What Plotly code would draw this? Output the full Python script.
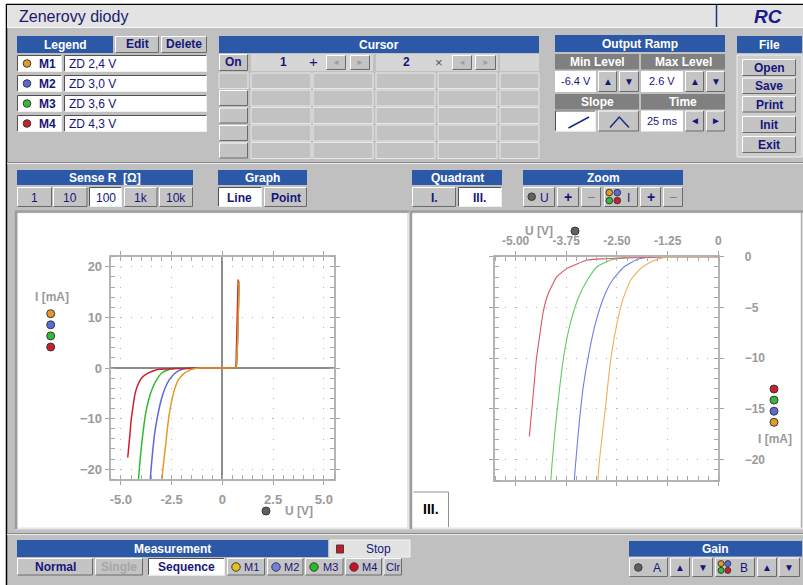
import plotly.graph_objects as go

# ---------------- data ----------------
series_names = ["M1", "M2", "M3", "M4"]
series_labels = ["ZD 2,4 V", "ZD 3,0 V", "ZD 3,6 V", "ZD 4,3 V"]

U_M1 = [-3.02, -2.97, -2.94, -2.89, -2.84, -2.78, -2.73, -2.63, -2.50, -2.36, -2.16, -1.91, -1.70,
        -1.50, -1.35, -1.25, -1.00, 0.00, 0.60, 0.68, 0.72, 0.76, 0.79, 0.82, 0.83]
I_M1 = [-24.0, -22.0, -20.4, -18.6, -16.8, -14.8, -12.8, -9.5, -6.6, -4.3, -2.3, -1.15, -0.6,
        -0.26, -0.10, -0.04, 0.0, 0.0, 0.02, 0.3, 2.5, 7.0, 11.5, 15.5, 17.2]

U_M2 = [-3.58, -3.55, -3.52, -3.44, -3.33, -3.19, -3.03, -2.82, -2.61, -2.32, -1.99, -1.74, -1.50,
        0.00, 0.60, 0.68, 0.72, 0.76, 0.79, 0.81]
I_M2 = [-24.0, -22.0, -20.4, -16.8, -12.8, -9.5, -6.57, -3.95, -2.3, -0.99, -0.26, -0.05, 0.0,
        0.0, 0.02, 0.3, 2.5, 7.0, 12.0, 16.5]

U_M3 = [-4.16, -4.13, -4.10, -4.02, -3.91, -3.80, -3.65, -3.44, -3.23, -2.99, -2.65, -2.16, -1.90,
        0.00, 0.60, 0.68, 0.72, 0.76, 0.79, 0.81]
I_M3 = [-24.0, -22.0, -20.4, -16.8, -12.8, -9.5, -6.57, -3.95, -2.3, -0.99, -0.33, -0.03, 0.0,
        0.0, 0.02, 0.3, 2.5, 7.0, 12.0, 16.5]

U_M4 = [-4.66, -4.60, -4.54, -4.49, -4.41, -4.31, -4.19, -3.98, -3.73, -3.23, -2.80, -2.30, -1.80,
        -1.32, 0.00, 0.58, 0.66, 0.69, 0.72, 0.75, 0.78]
I_M4 = [-17.7, -15.1, -12.5, -10.2, -7.9, -5.26, -3.6, -1.97, -1.15, -0.33, -0.20, -0.12, -0.08,
        0.0, 0.0, 0.02, 0.3, 3.0, 8.0, 13.0, 17.5]

left_x_ticks = [-5, -2.5, 0, 2.5, 5]
left_x_text = ["-5.0", "-2.5", "0", "2.5", "5.0"]
left_y_ticks = [-20, -10, 0, 10, 20]
right_x_ticks = [-5, -3.75, -2.5, -1.25, 0]
right_x_text = ["-5.00", "-3.75", "-2.50", "-1.25", "0"]
right_y_ticks = [0, -5, -10, -15, -20]

# ---------------- style ----------------
W, H = 803, 585
FONT = "Liberation Sans, Arial, sans-serif"
NAVY = "#16167a"
HDR = "#2c58a8"
BG = "#c0c0c0"
FACE = "#c4c4c4"
col_left = {"M1": "#e39a26", "M2": "#5b68d8", "M3": "#33b833", "M4": "#cc2030"}
col_right = {"M1": "#eeb056", "M2": "#6f7de6", "M3": "#5fcc5f", "M4": "#dc5563"}
dot_col = {"M1": "#e39a26", "M2": "#5b6ad6", "M3": "#33bb33", "M4": "#c8202c"}

shapes, annots = [], []


def P(x):
    return x / W


def Q(y):
    return 1 - y / H


def rect(x0, y0, x1, y1, fill, line=None, lw=1):
    shapes.append(dict(type="rect", xref="paper", yref="paper", x0=P(x0), x1=P(x1), y0=Q(y1), y1=Q(y0),
                       fillcolor=fill, line=dict(width=lw if line else 0, color=line or "rgba(0,0,0,0)"),
                       layer="below"))


def poly(pts, color, lw=1, close=False, fill=None):
    d = "M " + " L ".join(f"{P(x):.5f},{Q(y):.5f}" for x, y in pts) + (" Z" if close else "")
    shapes.append(dict(type="path", xref="paper", yref="paper", path=d,
                       line=dict(color=color, width=lw), fillcolor=fill or "rgba(0,0,0,0)", layer="below"))


def bevel(x0, y0, x1, y1, sunk=False):
    hi, lo = ("#ffffff", "#6a6a6a") if not sunk else ("#505050", "#f0f0f0")
    poly([(x0 + 0.5, y1 - 0.5), (x0 + 0.5, y0 + 0.5), (x1 - 0.5, y0 + 0.5)], hi)
    poly([(x0 + 0.5, y1 - 0.5), (x1 - 0.5, y1 - 0.5), (x1 - 0.5, y0 + 0.5)], lo)


def button(x0, y0, x1, y1, face=FACE, sunk=False):
    rect(x0, y0, x1, y1, face)
    bevel(x0, y0, x1, y1, sunk)


def text(x, y, s, size=12, color=NAVY, bold=True, anchor="center", italic=False):
    annots.append(dict(xref="paper", yref="paper", x=P(x), y=Q(y), text=s, showarrow=False,
                       xanchor=anchor, yanchor="middle",
                       font=dict(family=FONT, size=size, color=color,
                                 weight="bold" if bold else "normal",
                                 style="italic" if italic else "normal")))


def header(x0, y0, x1, y1, label):
    rect(x0, y0, x1, y1, HDR)
    text((x0 + x1) / 2, (y0 + y1) / 2 + 0.5, label, color="white")


def dot(cx, cy, r, fill, line="#3a3a3a"):
    shapes.append(dict(type="circle", xref="paper", yref="paper", x0=P(cx - r), x1=P(cx + r),
                       y0=Q(cy + r), y1=Q(cy - r), fillcolor=fill, line=dict(color=line, width=1),
                       layer="below"))


def four_dots(cx, cy, d, r):
    dot(cx - d, cy - d, r, dot_col["M1"])
    dot(cx + d, cy - d, r, dot_col["M2"])
    dot(cx - d, cy + d, r, dot_col["M3"])
    dot(cx + d, cy + d, r, dot_col["M4"])


# ---------------- window chrome ----------------
rect(0, 0, 803, 4, "#ffffff")
rect(0, 0, 6, 585, "#ffffff")
poly([(6.5, 585), (6.5, 4.5), (803, 4.5)], "#000000", 1.5)
rect(7, 5, 803, 27, "#e3e3e3")
poly([(7, 27.5), (803, 27.5)], "#f6f6f6")
poly([(716.5, 5), (716.5, 27)], "#24306e", 1.5)
text(17, 16, "Zenerovy diody", size=16, color="#1a1a6e", bold=False, anchor="left")
text(768, 16, "RC", size=19, color="#1a1a8a", italic=True)

poly([(7, 162.5), (803, 162.5)], "#888888")
poly([(7, 163.5), (803, 163.5)], "#ececec")
poly([(7, 533.5), (803, 533.5)], "#888888")
poly([(7, 534.5), (803, 534.5)], "#ececec")

# ---------------- legend ----------------
header(17, 36, 113, 53, "Legend")
button(115, 36, 159, 53)
text(137, 44.5, "Edit")
button(161, 36, 207, 53)
text(184, 44.5, "Delete")
for i, (nm, lab) in enumerate(zip(series_names, series_labels)):
    y0 = 55 + 20 * i
    y1 = y0 + 17
    rect(17, y0, 62, y1, "#ffffff")
    bevel(17, y0, 62, y1, sunk=True)
    rect(64, y0, 207, y1, "#ffffff")
    bevel(64, y0, 207, y1, sunk=True)
    dot(27, (y0 + y1) / 2, 3.8, dot_col[nm])
    text(47, (y0 + y1) / 2 + 0.5, nm)
    text(67, (y0 + y1) / 2 + 0.5, lab, bold=False, anchor="left")

# ---------------- cursor ----------------
header(219, 36, 539, 53, "Cursor")
button(219, 54, 248, 71)
text(233.5, 62.5, "On")
rect(251, 54, 373, 71, "#d6d6d6")
text(283, 62.5, "1")
text(313, 62, "+", size=15, bold=False)
button(326, 55, 346, 70)
text(336, 62.5, "◄", size=8, color="#a0a0a0", bold=False)
button(350, 55, 370, 70)
text(360, 62.5, "►", size=8, color="#a0a0a0", bold=False)
rect(376, 54, 498, 71, "#d6d6d6")
text(406.7, 62.5, "2")
text(439.3, 62.5, "×", size=13, color="#555555", bold=False)
button(452, 55, 472, 70)
text(462, 62.5, "◄", size=8, color="#a0a0a0", bold=False)
button(475, 55, 496, 70)
text(485.5, 62.5, "►", size=8, color="#a0a0a0", bold=False)
rect(500, 54, 539, 71, "#d6d6d6")
grid_rows = [(73, 88.5), (90, 106), (107.5, 123.5), (125, 141), (142.5, 158.5)]
grid_cols = [(251, 311), (313, 373), (376, 435), (438, 497), (500, 539)]
for i, (y0, y1) in enumerate(grid_rows):
    if i == 0:
        rect(219, y0, 248, y1, "#c2c2c2", line="#e6e6e6")
    else:
        button(219, y0, 248, y1)
    for x0, x1 in grid_cols:
        rect(x0, y0, x1, y1, "#c2c2c2", line="#e8e8e8")

# ---------------- output ramp ----------------
header(555, 35, 725, 52, "Output Ramp")
rect(555, 54, 639, 69.5, "#808080")
text(597, 62, "Min Level", color="white")
rect(641, 54, 725, 69.5, "#808080")
text(683, 62, "Max Level", color="white")
rect(555, 71, 596, 92, "#ffffff")
text(575.5, 81.5, "-6.4 V", bold=False, size=11)
button(598, 71, 617, 92)
text(607.5, 81.5, "▲", size=10)
button(619, 71, 639, 92)
text(629, 81.5, "▼", size=10)
rect(641, 71, 683, 92, "#ffffff")
text(662, 81.5, "2.6 V", bold=False, size=11)
button(685, 71, 704, 92)
text(694.5, 81.5, "▲", size=10)
button(706, 71, 725, 92)
text(715.5, 81.5, "▼", size=10)
rect(555, 94, 639, 109.5, "#808080")
text(597, 102, "Slope", color="white")
rect(641, 94, 725, 109.5, "#808080")
text(683, 102, "Time", color="white")
rect(555, 110.5, 596, 131.5, "#ffffff")
bevel(555, 110.5, 596, 131.5, sunk=True)
poly([(568.5, 128), (589, 117)], "#1a2a80", 1.5)
button(598, 110.5, 639, 131.5)
poly([(610, 127.5), (619.3, 117), (629, 127.5)], "#1a2a80", 1.5)
rect(641, 110.5, 683, 131.5, "#ffffff")
text(662, 121, "25 ms", bold=False, size=11)
button(685, 110.5, 704, 131.5)
text(694.5, 121, "◄", size=10)
button(706, 110.5, 725, 131.5)
text(715.5, 121, "►", size=10)

# ---------------- file ----------------
header(737, 36, 802, 53, "File")
rect(737, 55, 802, 157, "#cdcdcd", line="#eeeeee")
for lab, (y0, y1) in zip(["Open", "Save", "Print", "Init", "Exit"],
                         [(59, 76), (77.5, 94), (96, 112.5), (116, 133), (136, 153)]):
    button(742, y0, 796, y1)
    text(769, (y0 + y1) / 2 + 0.5, lab)

# ---------------- middle controls ----------------
header(17, 170, 193, 185, "Sense R  [Ω]")
for lab, (x0, x1), sel in zip(["1", "10", "100", "1k", "10k"],
                              [(17, 52), (53, 87.5), (89, 122), (124, 157.5), (159, 193)],
                              [False, False, True, False, False]):
    if sel:
        rect(x0, 187, x1, 207, "#ffffff")
        bevel(x0, 187, x1, 207, sunk=True)
    else:
        button(x0, 187, x1, 207)
    text((x0 + x1) / 2, 197.5, lab, bold=False)

header(218, 170, 307, 185, "Graph")
rect(218, 187, 262, 207, "#ffffff")
bevel(218, 187, 262, 207, sunk=True)
text(240, 197.5, "Line")
button(264, 187, 307, 207)
text(285.5, 197.5, "Point")

header(412, 170, 502, 185, "Quadrant")
button(412, 187, 456, 207)
text(434, 197.5, "I.")
rect(458, 187, 502, 207, "#ffffff")
bevel(458, 187, 502, 207, sunk=True)
text(480, 197.5, "III.")

header(523, 170, 683, 185, "Zoom")
button(523, 187, 555, 207)
dot(531.7, 196.7, 3.8, "#606060")
text(544, 197.5, "U", bold=False)
button(557, 187, 579, 207)
text(568, 197, "+", size=14)
button(581, 187, 601, 207)
text(591, 197, "−", size=14, color="#808080", bold=False)
button(604, 187, 638, 207)
four_dots(613.3, 196.6, 4.0, 3.3)
text(628.3, 197.5, "I", bold=False)
button(640, 187, 661, 207)
text(650.5, 197, "+", size=14)
button(663, 187, 683, 207)
text(673, 197, "−", size=14, color="#808080", bold=False)

# ---------------- plot panels ----------------
rect(15, 210.5, 409, 529.5, "#e6e6e6")
poly([(16, 529), (16, 211.5), (409, 211.5)], "#9c9c9c", 2.5)
rect(18, 213.5, 407, 527.5, "#ffffff")

rect(409.5, 210.5, 803, 529.5, "#e6e6e6")
poly([(411, 529), (411, 211.5), (803, 211.5)], "#9c9c9c", 2.5)
rect(412.5, 213.5, 801, 527.5, "#ffffff")
poly([(801.5, 213), (801.5, 527.5)], "#b0b0b0", 1.5)
poly([(413.5, 492), (448.5, 492), (448.5, 527)], "#909090", 1)
text(431, 508.5, "III.", size=14, color="#000000")

GRAY_TXT = "#9a9a9a"
text(51.7, 296.5, "I [mA]", color=GRAY_TXT)
for k, nm in enumerate(["M1", "M2", "M3", "M4"]):
    dot(50.7, 313.7 + 11.1 * k, 4, dot_col[nm])
dot(266, 511, 4, "#606060")
text(299.3, 511, "U [V]", color=GRAY_TXT)

text(539.3, 231, "U [V]", color=GRAY_TXT)
dot(575, 231, 4, "#606060")
for k, nm in enumerate(["M4", "M3", "M2", "M1"]):
    dot(774, 389 + 11.1 * k, 4, dot_col[nm])
text(775, 438.5, "I [mA]", color=GRAY_TXT)

# ---------------- bottom ----------------
header(17, 540, 328, 557, "Measurement")
rect(330, 540, 410, 557, "#e2e2e2", line="#f4f4f4")
rect(336.5, 545, 343.5, 553, "#c81828", line="#404040")
text(378, 548.5, "Stop", bold=False)
button(17, 558, 93, 575.5)
text(55, 567, "Normal")
button(95, 558, 143, 575.5)
text(119, 567, "Single", color="#a6a6a6")
rect(148, 558, 225, 575.5, "#ffffff")
bevel(148, 558, 225, 575.5, sunk=True)
text(186.5, 567, "Sequence")
bottom_dot_col = {"M1": "#e6c020", "M2": "#7080e0", "M3": "#22c022", "M4": "#d01020"}
for nm, (x0, x1), cx, tx in zip(series_names,
                               [(227, 265), (267, 303.5), (305, 343.5), (345, 382)],
                               [236, 276, 314, 354], [252, 291, 330, 369.5]):
    button(x0, 558, x1, 575.5)
    dot(cx, 567, 4.2, bottom_dot_col[nm])
    text(tx, 567, nm, bold=False, size=11)
button(383.5, 558, 402, 575.5)
text(393, 567, "Clr", bold=False, size=11)

header(629, 541, 802, 556.5, "Gain")
button(629, 557.5, 668, 577)
dot(638.3, 567.5, 3.8, "#606060")
text(657.3, 567.5, "A", bold=False)
button(670, 557.5, 690, 577)
text(680, 567.5, "▲", size=10)
button(692, 557.5, 713, 577)
text(702.5, 567.5, "▼", size=10)
button(715, 557.5, 755, 577)
four_dots(724.4, 567, 3.4, 3.0)
text(744, 567.5, "B", bold=False)
button(757, 557.5, 777, 577)
text(767, 567.5, "▲", size=10)
button(778.5, 557.5, 800, 577)
text(789, 567.5, "▼", size=10)

# ---------------- traces ----------------
data = {"M1": (U_M1, I_M1), "M2": (U_M2, I_M2), "M3": (U_M3, I_M3), "M4": (U_M4, I_M4)}
order = ["M3", "M2", "M4", "M1"]
fig = go.Figure()
for nm in order:
    u, i = data[nm]
    fig.add_trace(go.Scatter(x=u, y=i, mode="lines", xaxis="x", yaxis="y", showlegend=False,
                             line=dict(color=col_left[nm], width=1.5, shape="spline", smoothing=0.5),
                             hoverinfo="skip"))
for nm in order:
    u, i = data[nm]
    fig.add_trace(go.Scatter(x=u, y=i, mode="lines", xaxis="x2", yaxis="y2", showlegend=False,
                             line=dict(color=col_right[nm], width=1.1, shape="spline", smoothing=0.5),
                             hoverinfo="skip"))

tickfont = dict(family=FONT, size=13, color=GRAY_TXT, weight="bold")
common = dict(showgrid=True, gridcolor="#b4b4b4", gridwidth=1, griddash="1px,9.1px",
              showline=True, linecolor="#b4b4b4", linewidth=2, mirror="allticks",
              ticks="outside", ticklen=4, tickcolor="#a4a4a4", tickwidth=1, fixedrange=True,
              automargin=False)

fig.update_layout(
    width=W, height=H, margin=dict(l=0, r=0, t=0, b=0, pad=0), autosize=False,
    paper_bgcolor=BG, plot_bgcolor="rgba(0,0,0,0)", showlegend=False,
    shapes=shapes, annotations=annots,
    xaxis=dict(domain=[P(110.7), P(334)], range=[-5.5, 5.5], anchor="y",
               tickmode="array", tickvals=left_x_ticks, ticktext=left_x_text,
               zeroline=True, zerolinecolor="#8c8c8c", zerolinewidth=1.5,
               minor=dict(dtick=0.5, tick0=0, ticks="inside", ticklen=4, tickcolor="#a8a8a8", showgrid=False),
               tickfont=tickfont, ticklabelstandoff=3, **common),
    yaxis=dict(domain=[Q(479.3), Q(256.7)], range=[-22, 22], anchor="x",
               tickmode="array", tickvals=left_y_ticks,
               zeroline=True, zerolinecolor="#8c8c8c", zerolinewidth=1.5,
               minor=dict(dtick=2, tick0=0, ticks="inside", ticklen=4, tickcolor="#a8a8a8", showgrid=False),
               tickfont=tickfont, **common),
    xaxis2=dict(domain=[P(495.3), P(718.3)], range=[-5.5, 0], anchor="y2", side="top",
                tickmode="array", tickvals=right_x_ticks, ticktext=right_x_text, zeroline=False,
                minor=dict(dtick=0.25, tick0=0, ticks="inside", ticklen=4, tickcolor="#a8a8a8", showgrid=False),
                tickfont=dict(tickfont, size=12), ticklabelstandoff=1, **common),
    yaxis2=dict(domain=[Q(480), Q(256.7)], range=[-22, 0], anchor="x2", side="right",
                tickmode="array", tickvals=right_y_ticks, zeroline=False,
                minor=dict(dtick=1, tick0=0, ticks="inside", ticklen=4, tickcolor="#a8a8a8", showgrid=False),
                tickfont=dict(tickfont, size=12), ticklabelstandoff=18, **common),
)

fig.write_html("out.html", config={"displayModeBar": False, "responsive": False},
               post_script="document.body.style.margin='0';document.body.style.padding='0';"
                           "document.documentElement.style.overflow='hidden';")
